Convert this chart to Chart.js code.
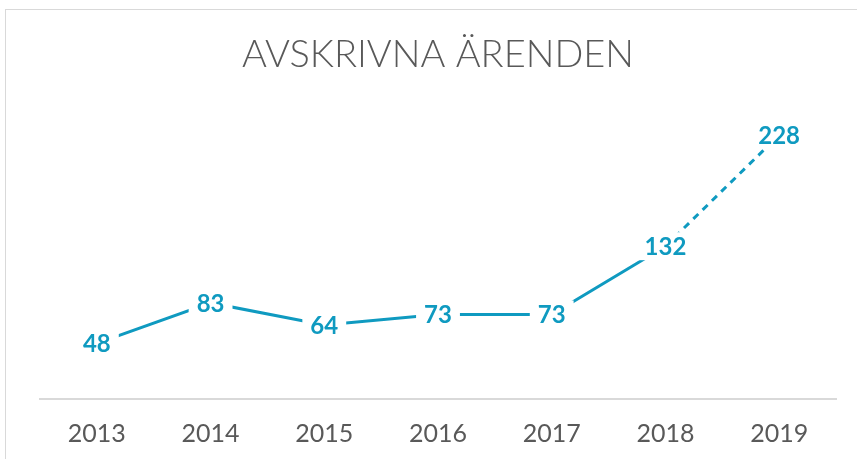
<!DOCTYPE html>
<html>
<head>
<meta charset="utf-8">
<script src="https://cdn.jsdelivr.net/npm/chart.js@4"></script>
<style>
    html, body { margin: 0; padding: 0; background: #fff; overflow: hidden; }
    .frame { position: absolute; left: 5px; top: 9px; width: 900px; height: 500px; border: 1px solid #d9d9d9; }
    .wrap { position: absolute; left: 0; top: 0; width: 857px; height: 469px; }
</style>
</head>
<body>
<div class="frame"></div>
<div class="wrap"><canvas id="chart"></canvas></div>
<script>
const years = ['2013', '2014', '2015', '2016', '2017', '2018', '2019'];
const cases = [48, 83, 64, 73, 73, 132, 228];

const blue = '#0f9ac0';

// labels on top of the points, with a white box that cuts the line
const pointLabels = {
    id: 'pointLabels',
    afterDatasetsDraw(chart) {
        const ctx = chart.ctx;
        const meta = chart.getDatasetMeta(0);
        ctx.save();
        ctx.font = 'bold 24px Lato, "Open Sans", sans-serif';
        ctx.textAlign = 'center';
        ctx.textBaseline = 'middle';
        meta.data.forEach((pt, i) => {
            const text = String(cases[i]);
            const w = ctx.measureText(text).width;
            ctx.fillStyle = '#fff';
            ctx.fillRect(pt.x - w / 2 - 8, pt.y - 14, w + 16, 28);
            ctx.fillStyle = blue;
            ctx.fillText(text, pt.x, pt.y + 1);
        });
        ctx.restore();
    }
};

new Chart(document.getElementById('chart'), {
    type: 'line',
    data: {
        labels: years,
        datasets: [{
            data: cases,
            borderColor: blue,
            borderWidth: 3,
            pointRadius: 0,
            tension: 0,
            segment: {
                borderDash: (c) => c.p1DataIndex === 6 ? [7, 6] : undefined
            }
        }]
    },
    options: {
        responsive: true,
        maintainAspectRatio: false,
        animation: false,
        layout: { padding: { left: 40, right: 21, top: 0, bottom: 0 } },
        plugins: {
            legend: { display: false },
            tooltip: { enabled: false },
            title: {
                display: true,
                text: 'AVSKRIVNA ÄRENDEN',
                color: '#595959',
                font: { family: 'Lato', size: 38, weight: '300' },
                padding: { top: 32, bottom: 32 }
            }
        },
        scales: {
            x: {
                offset: true,
                grid: { display: false, drawTicks: false },
                border: { display: true, color: '#d9d9d9', width: 2 },
                ticks: { color: '#595959', font: { family: 'Lato', size: 25 }, padding: 20 }
            },
            y: { display: false, min: 0, max: 250 }
        }
    },
    plugins: [pointLabels]
});
</script>
</body>
</html>
